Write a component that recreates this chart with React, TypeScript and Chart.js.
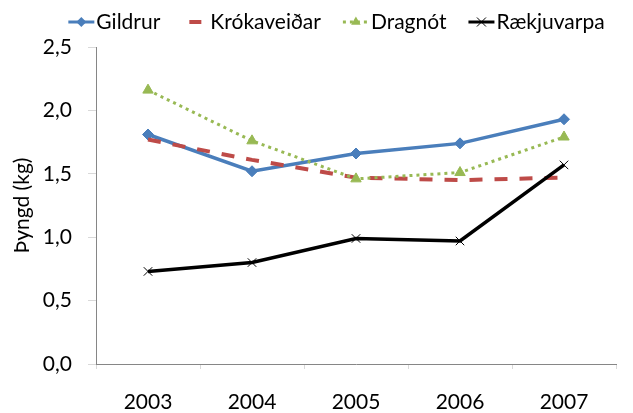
import React, { useEffect, useRef } from "react";
import { Chart, registerables } from "chart.js";

Chart.register(...registerables);

const years = ["2003", "2004", "2005", "2006", "2007"];
const gildrur = [1.81, 1.52, 1.66, 1.74, 1.93];
const krokaveidar = [1.77, 1.61, 1.47, 1.45, 1.47];
const dragnot = [2.16, 1.76, 1.46, 1.51, 1.79];
const raekjuvarpa = [0.73, 0.8, 0.99, 0.97, 1.57];
const seriesNames = ["Gildrur", "Krókaveiðar", "Dragnót", "Rækjuvarpa"];
const yTitle = "Þyngd (kg)";

const FONT = "Lato";
const FS = 21;
const BLUE = "#4A7EBB";
const RED = "#BE4B48";
const GREEN = "#98B954";
const BLACK = "#000000";

function drawMarker(ctx: CanvasRenderingContext2D, kind: string, x: number, y: number, color: string) {
  ctx.save();
  ctx.setLineDash([]);
  ctx.fillStyle = color;
  ctx.strokeStyle = color;
  if (kind === "diamond") {
    const r = 5;
    ctx.beginPath();
    ctx.moveTo(x, y - r);
    ctx.lineTo(x + r, y);
    ctx.lineTo(x, y + r);
    ctx.lineTo(x - r, y);
    ctx.closePath();
    ctx.fill();
  } else if (kind === "triangle") {
    const r = 5.5;
    ctx.beginPath();
    ctx.moveTo(x, y - r);
    ctx.lineTo(x + r * 0.866, y + r * 0.5);
    ctx.lineTo(x - r * 0.866, y + r * 0.5);
    ctx.closePath();
    ctx.fill();
  } else if (kind === "cross") {
    const r = 4.5;
    ctx.lineWidth = 1;
    ctx.beginPath();
    ctx.moveTo(x - r, y - r);
    ctx.lineTo(x + r, y + r);
    ctx.moveTo(x + r, y - r);
    ctx.lineTo(x - r, y + r);
    ctx.stroke();
  }
  ctx.restore();
}

const legendPlugin = {
  id: "excelLegend",
  afterDraw(chart: any) {
    const ctx: CanvasRenderingContext2D = chart.ctx;
    const items = [
      { name: seriesNames[0], color: BLUE, width: 3, dash: [] as number[], marker: "diamond", shortDash: false },
      { name: seriesNames[1], color: RED, width: 4, dash: [] as number[], marker: "", shortDash: true },
      { name: seriesNames[2], color: GREEN, width: 3, dash: [3, 4], marker: "triangle", shortDash: false },
      { name: seriesNames[3], color: BLACK, width: 3, dash: [] as number[], marker: "cross", shortDash: false },
    ];
    ctx.save();
    ctx.font = `${FS}px ${FONT}`;
    const sym = 26;
    const gapText = 2;
    const gapItem = 22;
    let total = 0;
    const widths = items.map((it) => ctx.measureText(it.name).width);
    widths.forEach((w, i) => {
      total += sym + gapText + w + (i < items.length - 1 ? gapItem : 0);
    });
    let x = 336.5 - total / 2;
    const y = 22;
    items.forEach((it, i) => {
      ctx.save();
      ctx.strokeStyle = it.color;
      ctx.lineWidth = it.width;
      ctx.setLineDash(it.dash);
      ctx.lineCap = "butt";
      ctx.beginPath();
      if (it.shortDash) {
        ctx.moveTo(x + sym / 2 - 6, y);
        ctx.lineTo(x + sym / 2 + 6, y);
      } else {
        ctx.moveTo(x, y);
        ctx.lineTo(x + sym, y);
      }
      ctx.stroke();
      ctx.restore();
      if (it.marker) drawMarker(ctx, it.marker, x + sym / 2, y, it.color);
      ctx.fillStyle = "#000";
      ctx.textBaseline = "middle";
      ctx.textAlign = "left";
      ctx.fillText(it.name, x + sym + gapText, y);
      x += sym + gapText + widths[i] + gapItem;
    });
    ctx.restore();
  },
};

export default function App() {
  const ref = useRef<HTMLCanvasElement>(null);
  useEffect(() => {
    if (!ref.current) return;
    const chart = new Chart(ref.current, {
      type: "line",
      data: {
        labels: years,
        datasets: [
          {
            label: seriesNames[0],
            data: gildrur,
            borderColor: BLUE,
            backgroundColor: BLUE,
            borderWidth: 3.5,
            pointStyle: "rectRot",
            pointRadius: 5.5,
            pointBorderWidth: 1,
            pointBackgroundColor: BLUE,
            pointBorderColor: BLUE,
            tension: 0,
            order: 3,
          },
          {
            label: seriesNames[1],
            data: krokaveidar,
            borderColor: RED,
            backgroundColor: RED,
            borderWidth: 4,
            borderDash: [13, 12],
            pointRadius: 0,
            tension: 0,
            order: 2,
          },
          {
            label: seriesNames[2],
            data: dragnot,
            borderColor: GREEN,
            backgroundColor: GREEN,
            borderWidth: 3,
            borderDash: [3, 4],
            pointStyle: "triangle",
            pointRadius: 6,
            pointBorderWidth: 1,
            pointBackgroundColor: GREEN,
            pointBorderColor: GREEN,
            tension: 0,
            order: 1,
          },
          {
            label: seriesNames[3],
            data: raekjuvarpa,
            borderColor: BLACK,
            backgroundColor: BLACK,
            borderWidth: 3.5,
            pointStyle: "crossRot",
            pointRadius: 6,
            pointBorderWidth: 1,
            pointBorderColor: BLACK,
            tension: 0,
            order: 0,
          },
        ],
      },
      options: {
        animation: false,
        responsive: false,
        layout: { padding: { left: 0, right: 17, top: 47, bottom: 0 } },
        font: { family: FONT, size: FS },
        plugins: {
          legend: { display: false },
          tooltip: { enabled: false },
        },
        scales: {
          x: {
            type: "category",
            offset: true,
            grid: {
              offset: true,
              drawOnChartArea: false,
              drawTicks: true,
              tickLength: 5,
              color: "#D9D9D9",
            },
            border: { color: "#868686", width: 1 },
            ticks: {
              color: "#000",
              padding: 21,
              font: { family: FONT, size: FS },
              maxRotation: 0,
            },
            afterFit: (s: any) => {
              s.height = 49;
            },
          },
          y: {
            min: 0,
            max: 2.5,
            grid: {
              drawOnChartArea: false,
              drawTicks: true,
              tickLength: 8,
              color: "#D9D9D9",
            },
            border: { color: "#868686", width: 1 },
            ticks: {
              stepSize: 0.5,
              color: "#000",
              padding: 16,
              font: { family: FONT, size: FS },
              callback: (v: any) => Number(v).toFixed(1).replace(".", ","),
            },
            title: {
              display: true,
              text: yTitle,
              color: "#000",
              font: { family: FONT, size: FS },
              padding: { top: 10, bottom: 0 },
            },
            afterFit: (s: any) => {
              s.width = 96;
            },
          },
        },
      },
      plugins: [legendPlugin],
    });
    return () => chart.destroy();
  }, []);
  return (
    <div style={{ position: "absolute", left: 0, top: 0, width: 633, height: 413, background: "#fff" }}>
      <canvas ref={ref} width={633} height={413} style={{ display: "block" }} />
    </div>
  );
}
